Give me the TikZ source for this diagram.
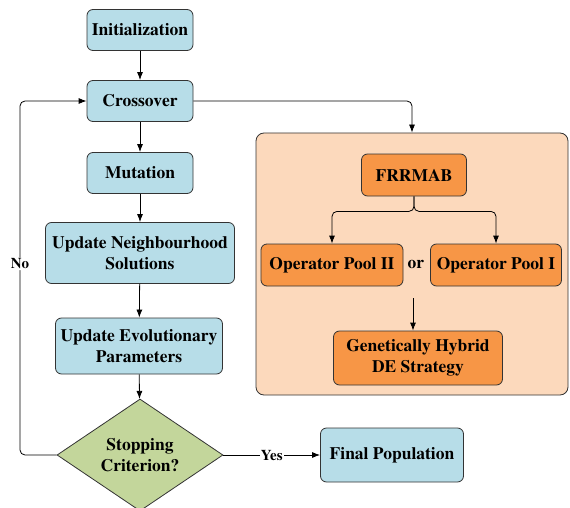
\documentclass[tikz,border=0pt]{standalone}
\usepackage[T1]{fontenc}
\usepackage{mathptmx}
\usetikzlibrary{arrows.meta,shapes.geometric}

\definecolor{boxblue}{HTML}{B7DDE8}
\definecolor{boxgreen}{HTML}{C3D69B}
\definecolor{boxorange}{HTML}{F79646}
\definecolor{panelpeach}{HTML}{FCD9BC}
\definecolor{edgegray}{HTML}{333333}

\tikzset{
    basebox/.style={draw=edgegray, line width=0.8pt, rounded corners=6pt, align=center,
        font=\fontsize{17.5}{21}\selectfont\bfseries, inner sep=2pt},
    stepblue/.style={basebox, fill=boxblue},
    steporange/.style={basebox, fill=boxorange},
    decision/.style={diamond, draw=edgegray, line width=0.8pt, fill=boxgreen, aspect=1.48,
        inner sep=0pt, align=center, font=\fontsize{17.5}{21}\selectfont\bfseries},
    arr/.style={-{Latex[length=8pt,width=6pt]}, line width=0.8pt, draw=black},
    edgelab/.style={font=\fontsize{15}{18}\selectfont\bfseries, fill=white, inner sep=1pt},
}

\begin{document}
\begin{tikzpicture}[x=1pt,y=-1pt]
    \useasboundingbox (0,0) rectangle (570,508);
    % panel behind the operator selection
    \node[draw=edgegray, line width=0.8pt, fill=panelpeach, rounded corners=8pt,
          minimum width=312pt, minimum height=262pt] (panel) at (412,264) {};
    % main flow
    \node[stepblue, minimum width=106pt, minimum height=41pt] (init) at (140,30) {Initialization};
    \node[stepblue, minimum width=106pt, minimum height=41pt] (cross) at (140,101) {Crossover};
    \node[stepblue, minimum width=106pt, minimum height=41pt] (mut) at (140,173) {Mutation};
    \node[stepblue, minimum width=189pt, minimum height=61pt] (neigh) at (140,253) {Update Neighbourhood\\Solutions};
    \node[stepblue, minimum width=167pt, minimum height=56pt] (evo) at (139,346) {Update Evolutionary\\Parameters};
    \node[decision, minimum width=166pt, minimum height=112pt] (stop) at (140,455) {Stopping\\Criterion?};
    \node[stepblue, minimum width=143pt, minimum height=54pt] (final) at (392,455) {Final Population};
    % operator selection
    \node[steporange, minimum width=105pt, minimum height=42pt] (frr) at (414,175) {FRRMAB};
    \node[steporange, minimum width=142pt, minimum height=42pt] (pool2) at (332,265) {Operator Pool II};
    \node[steporange, minimum width=131pt, minimum height=42pt] (pool1) at (496,265) {Operator Pool I};
    \node[font=\fontsize{17.5}{21}\selectfont\bfseries] (orlab) at (416,265) {or};
    \node[steporange, minimum width=169pt, minimum height=54pt] (ghs) at (418,358) {Genetically Hybrid\\DE Strategy};
    \coordinate (split) at (413,298);
    \coordinate (loop) at (20,455);
    % connectors
    \draw[arr] (init) -- (cross);
    \draw[arr] (cross) -- (mut);
    \draw[arr] (mut) -- (neigh);
    \draw[arr] (neigh) -- (evo);
    \draw[arr] (evo) -- (stop);
    \draw[arr] (stop) -- node[edgelab] {Yes} (final);
    \draw[arr, rounded corners=5pt] (stop.west) -- (loop) -- node[edgelab, pos=0.54] {No} (loop |- cross.west) -- (cross.west);
    \draw[arr, rounded corners=5pt] (cross.east) -| (panel.north);
    \draw[arr, rounded corners=5pt] (frr.south) -- ++(0,15) -| (pool2.north);
    \draw[arr, rounded corners=5pt] (frr.south) -- ++(0,15) -| (pool1.north);
    \draw[arr] (split) -- (split |- ghs.north);
\end{tikzpicture}
\end{document}
